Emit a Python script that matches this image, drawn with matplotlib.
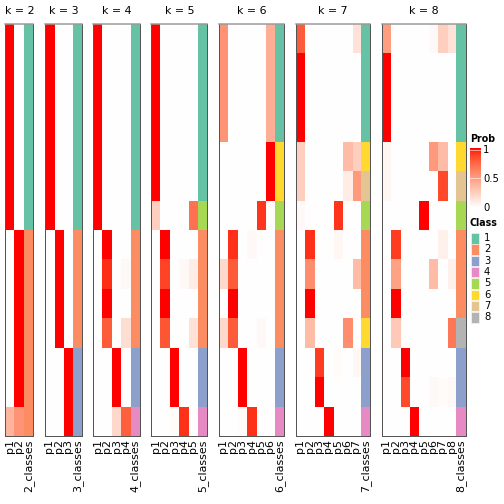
import numpy as np
import matplotlib
matplotlib.use("Agg")
import matplotlib.pyplot as plt
from matplotlib.colors import LinearSegmentedColormap, ListedColormap, BoundaryNorm
from matplotlib.patches import Rectangle

plt.rcParams['font.family'] = ['DejaVu Sans']

# ---------------- data (14 samples, rows top to bottom) ----------------
k_values = [2, 3, 4, 5, 6, 7, 8]

prob_k2 = [
    [1, 1, 1, 1, 1, 1, 1, 0, 0, 0, 0, 0, 0, 0.38],
    [0, 0, 0, 0, 0, 0, 0, 1, 1, 1, 1, 1, 1, 0.55],
]
classes_k2 = [1, 1, 1, 1, 1, 1, 1, 2, 2, 2, 2, 2, 2, 2]

prob_k3 = [
    [1, 1, 1, 1, 1, 1, 1, 0, 0, 0, 0, 0, 0, 0],
    [0, 0, 0, 0, 0, 0, 0, 1, 1, 1, 1, 0, 0, 0],
    [0, 0, 0, 0, 0, 0, 0, 0, 0, 0, 0, 1, 1, 1],
]
classes_k3 = [1, 1, 1, 1, 1, 1, 1, 2, 2, 2, 2, 3, 3, 3]

prob_k4 = [
    [1, 1, 1, 1, 1, 1, 1, 0, 0, 0, 0, 0, 0, 0],
    [0, 0, 0, 0, 0, 0, 0, 1, 0.94, 1, 0.8, 0, 0, 0],
    [0, 0, 0, 0, 0, 0, 0, 0, 0, 0, 0, 1, 1, 0.2],
    [0, 0, 0, 0, 0, 0, 0, 0, 0.03, 0, 0.17, 0, 0, 0.78],
]
classes_k4 = [1, 1, 1, 1, 1, 1, 1, 2, 2, 2, 2, 3, 3, 4]

prob_k5 = [
    [1, 1, 1, 1, 1, 1, 0.25, 0, 0, 0, 0, 0, 0, 0],
    [0, 0, 0, 0, 0, 0, 0, 1, 0.88, 1, 0.82, 0, 0, 0],
    [0, 0, 0, 0, 0, 0, 0, 0, 0, 0, 0, 1, 1, 0.02],
    [0, 0, 0, 0, 0, 0, 0, 0, 0.03, 0, 0, 0, 0, 0.93],
    [0, 0, 0, 0, 0, 0, 0.7, 0, 0.1, 0, 0.15, 0, 0, 0],
]
classes_k5 = [1, 1, 1, 1, 1, 1, 5, 2, 2, 2, 2, 3, 3, 4]

prob_k6 = [
    [0.55, 0.55, 0.55, 0.55, 0, 0, 0, 0, 0.2, 0, 0.2, 0, 0, 0],
    [0, 0, 0, 0, 0, 0, 0, 0.93, 0.8, 1, 0.8, 0, 0, 0],
    [0, 0, 0, 0, 0, 0, 0, 0, 0, 0, 0, 1, 1, 0.02],
    [0, 0, 0, 0, 0, 0, 0, 0.03, 0, 0, 0, 0, 0, 0.93],
    [0, 0, 0, 0, 0, 0, 0.92, 0, 0, 0, 0.03, 0, 0, 0],
    [0.42, 0.42, 0.42, 0.42, 1, 1, 0.02, 0, 0, 0, 0, 0, 0, 0],
]
classes_k6 = [1, 1, 1, 1, 6, 6, 5, 2, 2, 2, 2, 3, 3, 4]

prob_k7 = [
    [0.8, 1, 1, 1, 0.25, 0.25, 0.03, 0, 0, 0, 0, 0, 0, 0],
    [0, 0, 0, 0, 0, 0, 0, 0.93, 0.58, 1, 0.35, 0, 0, 0],
    [0, 0, 0, 0, 0, 0, 0, 0, 0, 0, 0, 0.9, 1, 0],
    [0, 0, 0, 0, 0, 0, 0, 0, 0, 0, 0, 0, 0, 1],
    [0, 0, 0, 0, 0, 0, 0.92, 0.04, 0, 0, 0, 0.02, 0, 0],
    [0, 0, 0, 0, 0.35, 0.1, 0, 0, 0, 0, 0.58, 0, 0, 0],
    [0.15, 0, 0, 0, 0.25, 0.52, 0, 0, 0.35, 0, 0, 0.04, 0, 0],
]
classes_k7 = [1, 1, 1, 1, 6, 7, 5, 2, 2, 2, 6, 3, 3, 4]

prob_k8 = [
    [0.5, 1, 1, 1, 0.05, 0.05, 0, 0, 0, 0, 0, 0, 0, 0],
    [0, 0, 0, 0, 0, 0, 0, 0.9, 0.48, 1, 0.28, 0, 0, 0],
    [0, 0, 0, 0, 0, 0, 0, 0, 0, 0, 0, 1, 0.86, 0],
    [0, 0, 0, 0, 0, 0, 0, 0, 0, 0, 0, 0, 0, 1],
    [0, 0, 0, 0, 0, 0, 1, 0, 0, 0, 0, 0, 0, 0],
    [0.03, 0, 0, 0, 0.52, 0, 0, 0, 0.35, 0, 0, 0, 0.03, 0],
    [0.25, 0, 0, 0, 0.35, 0.86, 0, 0.08, 0, 0, 0, 0, 0.02, 0],
    [0.15, 0, 0, 0, 0, 0, 0, 0, 0.08, 0, 0.68, 0, 0.03, 0],
]
classes_k8 = [1, 1, 1, 1, 6, 7, 5, 2, 2, 2, 8, 3, 3, 4]

probs = [prob_k2, prob_k3, prob_k4, prob_k5, prob_k6, prob_k7, prob_k8]
classes = [classes_k2, classes_k3, classes_k4, classes_k5, classes_k6, classes_k7, classes_k8]

class_labels = ['1', '2', '3', '4', '5', '6', '7', '8']
class_colors = ['#66C2A5', '#FC8D62', '#8DA0CB', '#E78AC3',
                '#A6D854', '#FFD92F', '#E5C494', '#B3B3B3']

# ---------------- colour map: white -> red interpolated in LAB ----------------
def srgb_to_lab(rgb):
    rgb = np.asarray(rgb, float)
    lin = np.where(rgb <= 0.04045, rgb / 12.92, ((rgb + 0.055) / 1.055) ** 2.4)
    M = np.array([[0.4124, 0.3576, 0.1805], [0.2126, 0.7152, 0.0722], [0.0193, 0.1192, 0.9505]])
    xyz = M @ lin
    wp = np.array([0.95047, 1.0, 1.08883])
    t = xyz / wp
    f = np.where(t > (6 / 29) ** 3, np.cbrt(t), t / (3 * (6 / 29) ** 2) + 4 / 29)
    return np.array([116 * f[1] - 16, 500 * (f[0] - f[1]), 200 * (f[1] - f[2])])

def lab_to_srgb(lab):
    L, a, b = lab
    fy = (L + 16) / 116
    fx = fy + a / 500
    fz = fy - b / 200
    def finv(t):
        return np.where(t > 6 / 29, t ** 3, 3 * (6 / 29) ** 2 * (t - 4 / 29))
    wp = np.array([0.95047, 1.0, 1.08883])
    xyz = wp * np.array([finv(fx), finv(fy), finv(fz)])
    Minv = np.array([[3.2406, -1.5372, -0.4986], [-0.9689, 1.8758, 0.0415], [0.0557, -0.2040, 1.0570]])
    lin = Minv @ xyz
    lin = np.clip(lin, 0, 1)
    rgb = np.where(lin <= 0.0031308, 12.92 * lin, 1.055 * lin ** (1 / 2.4) - 0.055)
    return np.clip(rgb, 0, 1)

lab_w = srgb_to_lab([1, 1, 1])
lab_r = srgb_to_lab([1, 0, 0])
cols = [lab_to_srgb(lab_w + (lab_r - lab_w) * t) for t in np.linspace(0, 1, 64)]
prob_cmap = LinearSegmentedColormap.from_list('prob', cols)
class_cmap = ListedColormap(class_colors)
class_norm = BoundaryNorm(np.arange(0.5, 9.5, 1), 8)

# ---------------- layout ----------------
W = H = 504
fig = plt.figure(figsize=(7, 7), dpi=72)

def px(x, y, w, h):
    return [x / W, 1 - (y + h) / H, w / W, h / H]

col_w = 9.35
gap = 11.3
top, bottom = 24, 436
left = 5.3
for k, P, C in zip(k_values, probs, classes):
    ncol = k + 1
    width = ncol * col_w
    ax = fig.add_axes(px(left, top, width, bottom - top))
    P = np.array(P, float).T  # rows x k
    n = P.shape[0]
    ax.imshow(P, cmap=prob_cmap, vmin=0, vmax=1, aspect='auto', interpolation='nearest',
              extent=[-0.5, k - 0.5, n - 0.5, -0.5])
    ax.imshow(np.array(C)[:, None], cmap=class_cmap, norm=class_norm, aspect='auto',
              interpolation='nearest', extent=[k - 0.5, k + 0.5, n - 0.5, -0.5])
    ax.set_xlim(-0.5, k + 0.5)
    ax.set_ylim(n - 0.5, -0.5)
    ax.set_yticks([])
    ax.set_xticks(range(k + 1))
    ax.set_xticklabels([f'p{i + 1}' for i in range(k)] + [f'{k}_classes'],
                       rotation=90, fontsize=11)
    ax.tick_params(axis='x', length=0, pad=3)
    for s in ax.spines.values():
        s.set_color('#555555')
        s.set_linewidth(1.0)
    ax.spines['top'].set_color('#999999')
    ax.spines['top'].set_linewidth(1.5)
    fig.text((left + width / 2) / W, 1 - 11.5 / H, f'k = {k}', fontsize=11,
             ha='center', va='center')
    left += width + gap

# ---------------- legends ----------------
fig.text(470 / W, 1 - 139 / H, 'Prob', fontsize=9.5, fontweight='bold', va='center', ha='left')
cax = fig.add_axes(px(470, 148, 11, 60))
grad = np.linspace(1, 0, 100)[:, None]
cax.imshow(grad, cmap=prob_cmap, vmin=0, vmax=1, aspect='auto', extent=[0, 1, 0, 1])
for v in [0.5, 0.97]:
    cax.axhline(v, color='white', lw=0.8, alpha=0.7)
cax.set_xlim(0, 1)
cax.set_ylim(0, 1)
cax.axis('off')
for v, lab in [(1, '1'), (0.5, '0.5'), (0, '0')]:
    y = 208 - v * 58
    fig.text(483 / W, 1 - y / H, lab, fontsize=10, va='center', ha='left')

fig.text(470 / W, 1 - 223 / H, 'Class', fontsize=9.5, fontweight='bold', va='center', ha='left')
for i, (lab, c) in enumerate(zip(class_labels, class_colors)):
    yc = 238 + i * 11.3
    fig.patches.append(Rectangle((470.7 / W, 1 - (yc + 5.5) / H), 8 / W, 10.5 / H,
                                 transform=fig.transFigure, facecolor=c, edgecolor='white',
                                 lw=0.5))
    fig.text(484 / W, 1 - yc / H, lab, fontsize=10, va='center', ha='left')

fig.savefig('out.png', dpi=72)
